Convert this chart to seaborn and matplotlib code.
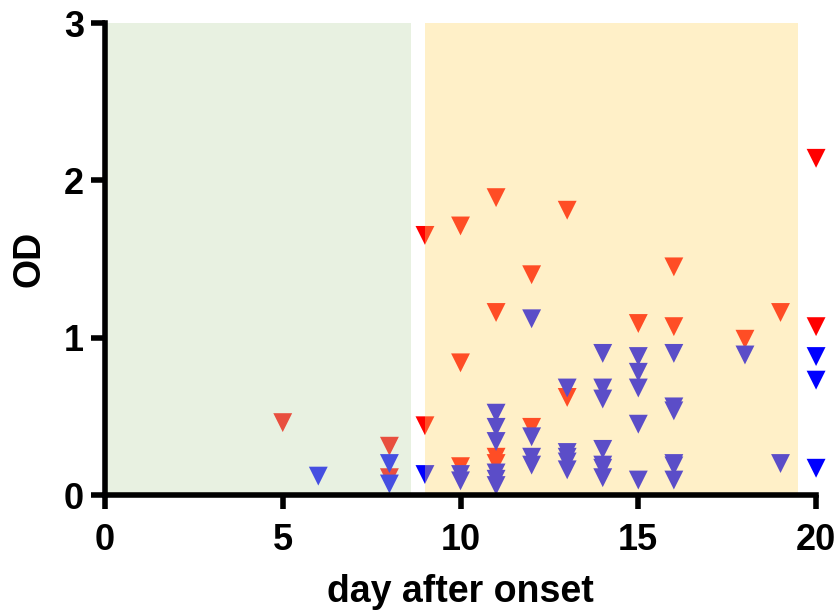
import pandas as pd
import matplotlib
matplotlib.use('Agg')
import matplotlib.pyplot as plt
import seaborn as sns

# red series (drawn first)
red_day = [5, 8, 8, 9, 9, 10, 10, 10, 11, 11, 11, 11, 12, 12, 13, 13,
           15, 16, 16, 18, 19, 20, 20]
red_od = [0.46, 0.31, 0.11, 1.65, 0.44, 1.71, 0.84, 0.18, 1.89, 1.16, 0.24, 0.20,
          1.40, 0.43, 1.81, 0.62, 1.09, 1.45, 1.07, 0.99, 1.16, 2.14, 1.07]

# blue series
blue_day = [6, 8, 8, 9, 10, 10,
            11, 11, 11, 11, 11, 11,
            12, 12, 12, 12,
            13, 13, 13, 13, 13,
            14, 14, 14, 14, 14, 14, 14,
            15, 15, 15, 15, 15,
            16, 16, 16, 16, 16, 16,
            18, 19, 20, 20, 20]
blue_od = [0.12, 0.20, 0.07, 0.13, 0.13, 0.09,
           0.52, 0.43, 0.34, 0.14, 0.10, 0.06,
           1.12, 0.37, 0.24, 0.19,
           0.68, 0.27, 0.24, 0.21, 0.16,
           0.90, 0.68, 0.61, 0.29, 0.19, 0.17, 0.11,
           0.88, 0.78, 0.68, 0.45, 0.095,
           0.90, 0.56, 0.535, 0.20, 0.185, 0.095,
           0.89, 0.20, 0.88, 0.73, 0.17]

df = pd.concat([
    pd.DataFrame({'day': red_day, 'OD': red_od, 'group': 'red'}),
    pd.DataFrame({'day': blue_day, 'OD': blue_od, 'group': 'blue'}),
], ignore_index=True)

sns.set_style('ticks')
plt.rcParams['font.family'] = ['Liberation Sans', 'DejaVu Sans']
plt.rcParams['font.weight'] = 'bold'
plt.rcParams['text.color'] = 'black'
plt.rcParams['axes.labelcolor'] = 'black'

fig = plt.figure(figsize=(8.37, 6.14), dpi=100)
ax = fig.add_axes([0.1254, 0.1938, 0.8496, 0.7687])

sns.scatterplot(data=df, x='day', y='OD', hue='group',
                palette={'red': '#FF0000', 'blue': '#0000FF'},
                marker='v', s=185, linewidth=0, legend=False,
                clip_on=False, zorder=2, ax=ax)

# translucent shading drawn over the points
ax.axvspan(0, 8.6, color='#C0DBAD', alpha=0.365, lw=0, zorder=3)
ax.axvspan(9.0, 19.5, color='#FFD669', alpha=0.36, lw=0, zorder=3)

ax.set_xlim(0, 20)
ax.set_ylim(0, 3)
ax.set_xticks([0, 5, 10, 15, 20])
ax.set_yticks([0, 1, 2, 3])
ax.set_xlabel('day after onset', fontsize=27, fontweight='bold', labelpad=12)
ax.set_ylabel('OD', fontsize=27, fontweight='bold', labelpad=12)
ax.tick_params(axis='both', length=10, width=4, labelsize=26,
               color='black', labelcolor='black')
ax.tick_params(axis='x', pad=10)
ax.tick_params(axis='y', pad=5)
for lab in ax.get_xticklabels() + ax.get_yticklabels():
    lab.set_fontweight('bold')

sns.despine(ax=ax)
for side in ['left', 'bottom']:
    ax.spines[side].set_linewidth(4)
    ax.spines[side].set_color('black')
    ax.spines[side].set_zorder(4)

plt.savefig('out.png', dpi=100)
